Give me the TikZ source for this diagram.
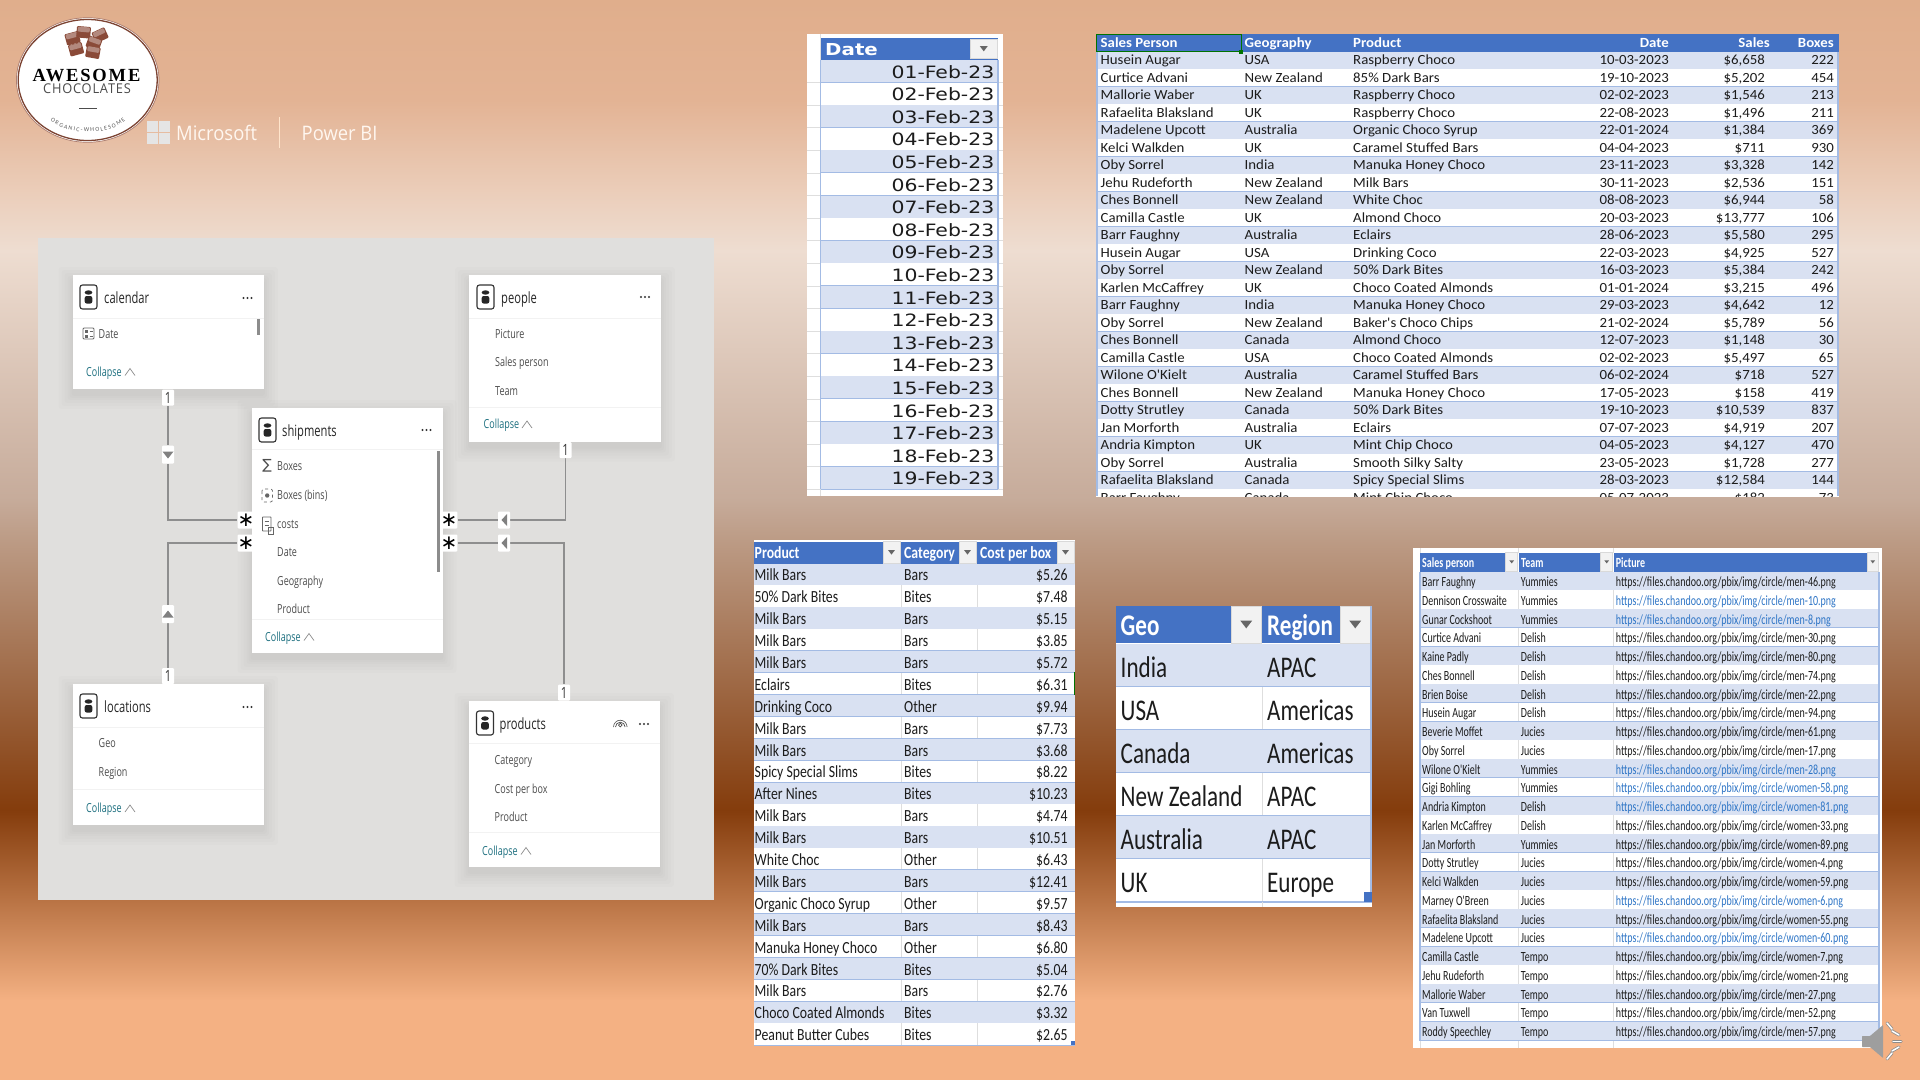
\documentclass[tikz,border=0pt]{standalone}
\usepackage{fontspec}
\usetikzlibrary{calc,decorations.text}
\newfontfamily\xlF{Carlito}
\newfontfamily\salF[FakeStretch=1.06]{Carlito}
\newfontfamily\dateF[FakeStretch=1.2]{DejaVu Sans}
\newfontfamily\peoF[FakeStretch=.715]{Carlito}
\newfontfamily\proF[FakeStretch=.81]{Carlito}
\newfontfamily\geoF[FakeStretch=.77]{Carlito}
\newfontfamily\uiF[FakeStretch=.72]{Open Sans}
\newfontfamily\msF[FakeStretch=.92]{Open Sans}
\newfontfamily\aweF[LetterSpace=10]{Liberation Serif}
\newfontfamily\choF[LetterSpace=6,FakeStretch=.95]{Open Sans}
\newfontfamily\djF{DejaVu Sans}
\newcommand\fsz[1]{\fontsize{#1}{#1}\selectfont}
\definecolor{hdr}{HTML}{4472C4}
\definecolor{band}{HTML}{D9E1F2}
\definecolor{rule}{HTML}{A3BBE4}
\definecolor{grid}{HTML}{DEDEDE}
\definecolor{ink}{HTML}{1C1C1C}
\definecolor{lnk}{HTML}{2E75C6}
\definecolor{gA}{HTML}{E0AE8C}
\definecolor{gB}{HTML}{E3B394}
\definecolor{gC}{HTML}{EBCDB9}
\definecolor{gD}{HTML}{EEDDD1}
\definecolor{gE}{HTML}{C6AB9A}
\definecolor{gF}{HTML}{BC9B85}
\definecolor{gG}{HTML}{843C0C}
\definecolor{gH}{HTML}{F4B183}
\definecolor{panel}{HTML}{E0DFDD}
\definecolor{uiT}{HTML}{4D4D4D}
\definecolor{teal}{HTML}{1E7080}
\definecolor{relc}{HTML}{8E8E8E}
\definecolor{choc}{HTML}{8A4A38}
\pgfdeclarelayer{back}\pgfdeclarelayer{lines}
\pgfsetlayers{back,lines,main}
\tikzset{
 cell/.style={inner sep=0pt,text=ink,anchor=base west},
 cellr/.style={inner sep=0pt,text=ink,anchor=base east},
 hcell/.style={inner sep=0pt,text=white,anchor=base west,font=\bfseries},
 hcellr/.style={inner sep=0pt,text=white,anchor=base east,font=\bfseries},
 cardbox/.style={fill=white,inner sep=0pt,rectangle},
 ttl/.style={inner sep=0pt,anchor=base west,text=black!85,font=\uiF\fsz{15.5}},
 fld/.style={inner sep=0pt,anchor=base west,text=uiT,font=\uiF\fsz{12.5}},
 clp/.style={inner sep=0pt,anchor=base west,text=teal,font=\uiF\fsz{12.5}},
 badge/.style={fill=white,inner sep=0pt,rounded corners=1pt,minimum width=12pt},
 rel/.style={draw=relc,line width=1.3pt},
 divl/.style={draw=black!5,line width=1pt},
 chev/.style={draw=black!45,line width=.7pt},
 ico/.style={draw=black!60,line width=.8pt},
 grd/.style={draw=grid,line width=.8pt},
 rl/.style={draw=rule,line width=1.3pt}
}
\newcommand\filt[4]{%
 \fill[black!5] (#1,#2) rectangle (#3,#4);
 \draw[black!15,line width=.5pt] (#1,#2) rectangle (#3,#4);
 \pgfmathsetmacro\fx{(#1+#3)/2}\pgfmathsetmacro\fy{(#2+#4)/2}
 \pgfmathsetmacro\fs{min(#3-#1,#4-#2)*.2}
 \fill[black!60] (\fx-\fs,\fy-.65*\fs) -- (\fx+\fs,\fy-.65*\fs) -- (\fx,\fy+.65*\fs) -- cycle;}
\newcommand\card[5]{%
 \begin{pgfonlayer}{back}
 \foreach \e in {14,11,8,5,3,1}{\fill[black,opacity=.013,rounded corners=3pt] (#2-\e,#3-\e+6) rectangle (#4+\e,#5+\e+6);}
 \end{pgfonlayer}
 \pgfmathsetmacro\cw{#4-#2}\pgfmathsetmacro\ch{#5-#3}
 \node[cardbox,minimum width=\cw pt,minimum height=\ch pt] (#1) at ({(#2+#4)/2},{(#3+#5)/2}) {};}
\newcommand\dbicon[2]{%
 \draw[black!80,line width=1.1pt,rounded corners=2.5pt] (#1,#2) rectangle ++(17,24);
 \fill[black!85] (#1+8.5,#2+7.5) ellipse [x radius=3.8,y radius=2.2];
 \fill[black!85,rounded corners=2pt] (#1+4.7,#2+11) rectangle ++(7.6,7.5);}
\newcommand\dotsic[2]{\foreach \q in {-4,0,4}{\fill[black!80] (#1+\q,#2) circle [radius=1.1];}}
\newcommand\chevr[2]{\draw[chev] (#1,#2+4) -- (#1+5,#2-3) -- (#1+10,#2+4);}
\begin{document}
\begin{tikzpicture}[x=1pt,y=-1pt,font=\xlF]
\useasboundingbox (0,0) rectangle (1920,1080);
\begin{pgfonlayer}{back}
 \shade[top color=gA,bottom color=gB] (0,0) rectangle (1920,100.5);
 \shade[top color=gB,bottom color=gC] (0,100) rectangle (1920,190.5);
 \shade[top color=gC,bottom color=gD] (0,190) rectangle (1920,250.5);
 \shade[top color=gD,bottom color=gE] (0,250) rectangle (1920,500.5);
 \shade[top color=gE,bottom color=gF] (0,500) rectangle (1920,540.5);
 \shade[top color=gF,bottom color=gG] (0,540) rectangle (1920,810.5);
 \shade[top color=gG,bottom color=gH] (0,810) rectangle (1920,1000.5);
 \fill[gH] (0,1000) rectangle (1920,1080);
 \fill[panel] (38,238) rectangle (714,900);
\end{pgfonlayer}
% ---------- logo
\fill[white] (87.7,80) ellipse [x radius=71,y radius=62];
\draw[choc!90!black,line width=1.3pt] (87.7,80) ellipse [x radius=69.5,y radius=60.5];
\draw[choc!70,line width=.7pt] (87.7,80) ellipse [x radius=71.3,y radius=62.3];
\foreach \px/\py/\pr in {72.5/38/15,83.6/32/-5,100/35/25,94/43/-20,76/49/15,93/52/-10}{
 \fill[choc,rotate around={\pr:(\px,\py)},rounded corners=1pt] (\px-7,\py-5.5) rectangle (\px+7,\py+6);
 \fill[choc!65!white,rotate around={\pr:(\px,\py)},rounded corners=1pt] (\px-6,\py-5) rectangle (\px+6,\py);}
\node[inner sep=0pt,anchor=base,text=black,font=\aweF\bfseries\fsz{18.5}] (awe) at (86.5,81) {AWESOME};
\node[inner sep=0pt,anchor=base,text=black!70,font=\choF\fsz{13.5}] (cho) at (87,93) {CHOCOLATES};
\draw[black!70,line width=1pt] (79,108.7) -- (97,108.7);
\path[decorate,decoration={text along path,text align=center,text={|\xlF\fsz{6}\color{black!65}|O R G A N I C  -  W H O L E S O M E}}] (47,117) .. controls (62,137) and (114,137) .. (129,117);
% ---------- microsoft
\foreach \px/\py in {147/121,159.2/121,147/133.2,159.2/133.2}{\fill[black!10] (\px,\py) rectangle ++(10.8,10.8);}
\node[inner sep=0pt,anchor=base west,text=white!94!orange,font=\msF\fsz{20}] (ms) at (176,140) {Microsoft};
\draw[white!80!orange,line width=.8pt] (279,117) -- (279,148);
\node[inner sep=0pt,anchor=base west,text=white!94!orange,font=\msF\fsz{20}] (pbi) at (301.5,140) {Power BI};
% ---------- model cards
\card{calendar}{72.5}{275}{264}{389}
\card{people}{469}{275}{661}{441.5}
\card{shipments}{251.5}{408}{442.5}{653}
\card{locations}{72.5}{684}{264}{825}
\card{products}{468.5}{701}{660}{867}
\dbicon{80}{285}\dbicon{477}{285}\dbicon{259}{418}\dbicon{80}{694}\dbicon{476.5}{711}
\node[ttl] (tcal) at (104,303) {calendar};
\node[ttl] (tpeo) at (501,303) {people};
\node[ttl] (tshi) at (282,436) {shipments};
\node[ttl] (tloc) at (104,712) {locations};
\node[ttl] (tpro) at (499.5,729) {products};
\dotsic{247.5}{298}\dotsic{645}{297}\dotsic{426.5}{430}\dotsic{247.5}{707}\dotsic{644}{724}
\draw[divl] (72.5,318) -- (264,318);
\draw[divl] (469,318) -- (661,318);
\draw[divl] (469,407) -- (661,407);
\draw[divl] (251.5,449.5) -- (442.5,449.5);
\draw[divl] (251.5,619) -- (442.5,619);
\draw[divl] (72.5,727) -- (264,727);
\draw[divl] (72.5,789) -- (264,789);
\draw[divl] (468.5,743) -- (660,743);
\draw[divl] (468.5,832) -- (660,832);
% scrollbars
\fill[black!45] (257,318.5) rectangle (260,335);
\fill[black!45] (437,451) rectangle (439.5,572);
% calendar field
\draw[ico,rounded corners=1pt] (83,328) rectangle (94,339);
\fill[black!60] (85,330) rectangle (88,333);\fill[black!60] (85,335) rectangle (88,337.5);\draw[black!60,line width=.7pt] (89.5,331)--(92.5,331) (89.5,336)--(92.5,336);
\node[fld] (fdate) at (98.5,338.5) {Date};
\node[clp] (ccal) at (86,376) {Collapse};\chevr{125}{371.5}
% people fields
\node[fld] (fpic) at (495,338.5) {Picture};
\node[fld] (fsp) at (495,366.5) {Sales person};
\node[fld] (ftm) at (495,395) {Team};
\node[clp] (cpeo) at (483.5,428.5) {Collapse};\chevr{522}{424}
% shipments fields
\node[inner sep=0pt,text=uiT,font=\djF\fsz{14}] (isig) at (267,466) {∑};
\draw[ico,dashed,rounded corners=2pt,line width=.7pt] (262,489) rectangle (272.5,502);
\fill[black!60] (267.2,495.5) circle [radius=2.2];
\draw[ico,rounded corners=.5pt] (262.5,517) rectangle (271,531);
\draw[ico,line width=.6pt] (264.5,521)--(269,521) (264.5,525)--(269,525);
\draw[ico,line width=.8pt] (268,527) rectangle (273,534);
\node[fld] (fbx) at (277,470.5) {Boxes};
\node[fld] (fbb) at (277,499.5) {Boxes (bins)};
\node[fld] (fcs) at (277,528.5) {costs};
\node[fld] (fdt) at (277,556.5) {Date};
\node[fld] (fge) at (277,585) {Geography};
\node[fld] (fpr) at (277,613) {Product};
\node[clp] (cshi) at (265,641) {Collapse};\chevr{304}{636.5}
% locations
\node[fld] (fgeo) at (98.5,747.5) {Geo};
\node[fld] (freg) at (98.5,776) {Region};
\node[clp] (cloc) at (86,812.5) {Collapse};\chevr{125}{808}
% products
\draw[black!70,line width=.7pt] (620.3,725) circle [radius=1.8];
\draw[black!70,line width=.7pt] (615.5,727) arc (180:360:4.8);
\draw[black!70,line width=.6pt] (613.5,727) arc (180:360:6.8);
\node[fld] (fcat) at (494.5,764.5) {Category};
\node[fld] (fcpb) at (494.5,793.5) {Cost per box};
\node[fld] (fprd) at (494.5,821.5) {Product};
\node[clp] (cpro) at (482,855) {Collapse};\chevr{521}{850.5}
% badges
\node[badge,minimum height=16pt,font=\uiF\fsz{15.5},text=black!80] (b1) at (168,397.5) {1};
\node[badge,minimum height=18pt] (t1) at (168,454.5) {};
\node[badge,minimum height=17pt] (s1) at (246,520) {\djF\fsz{20}∗};
\node[badge,minimum height=17pt] (s2) at (246,543) {\djF\fsz{20}∗};
\node[badge,minimum height=18pt] (t2) at (168,614) {};
\node[badge,minimum height=16pt,font=\uiF\fsz{15.5},text=black!80] (b2) at (168,676) {1};
\node[badge,minimum height=17pt] (s3) at (449,520) {\djF\fsz{20}∗};
\node[badge,minimum height=17pt] (s4) at (449,543) {\djF\fsz{20}∗};
\node[badge,minimum height=17pt] (t3) at (504,520) {};
\node[badge,minimum height=17pt] (t4) at (504,543) {};
\node[badge,minimum height=16pt,font=\uiF\fsz{15.5},text=black!80] (b3) at (565.5,450) {1};
\node[badge,minimum height=16pt,font=\uiF\fsz{15.5},text=black!80] (b4) at (564,692.5) {1};
\fill[black!50] (162.5,451.5) -- (173.5,451.5) -- (168,458.5) -- cycle;
\fill[black!50] (162.5,617.5) -- (173.5,617.5) -- (168,610.5) -- cycle;
\fill[black!50] (507,514) -- (507,526) -- (501.5,520) -- cycle;
\fill[black!50] (507,537) -- (507,549) -- (501.5,543) -- cycle;
\begin{pgfonlayer}{lines}
\draw[rel] (b1) -- (t1) |- (s1);
\draw[rel] (b2) -- (t2) |- (s2);
\draw[rel] (s3) -- (t3) -| (b3);
\draw[rel] (s4) -- (t4) -| (b4);
\end{pgfonlayer}
% ---------- date table
\fill[white] (807,34) rectangle (1003,496);
\draw[grd] (820.5,34) -- (820.5,496);
\fill[hdr] (820.7,37.7) rectangle (998,60);
\filt{970}{39}{997.5}{58.5}
\node[hcell,font=\dateF\bfseries\fsz{16.5}] (dh) at (825,55.5) {Date};
\foreach \dd [count=\rw from 0] in {01,02,03,04,05,06,07,08,09,10,11,12,13,14,15,16,17,18,19}{
 \pgfmathsetmacro\yy{60+22.6*\rw}
 \ifodd\rw\def\rowc{white}\else\def\rowc{band}\fi
 \fill[\rowc] (820.7,\yy) rectangle (998,\yy+22.6);
 \draw[grd] (807,\yy+22.6) -- (820.5,\yy+22.6) (998,\yy+22.6) -- (1003,\yy+22.6);
 \draw[rl] (820.7,\yy+22.6) -- (998,\yy+22.6);
 \node[cellr,font=\dateF\fsz{17}] (d\rw) at (994.5,\yy+18) {\dd-Feb-23};
}
\draw[rl] (820.7,60) -- (820.7,489.4) (998,60) -- (998,489.4);
% ---------- sales table
\fill[white] (1096,34) rectangle (1839,496);
\fill[hdr] (1096,34) rectangle (1839,51.7);
\begin{scope}
\clip (1096,34) rectangle (1839,496);
\node[hcell,font=\salF\bfseries\fsz{14}] (sh1) at (1100.5,47.5) {Sales Person};
\node[hcell,font=\salF\bfseries\fsz{14}] (sh2) at (1244.5,47.5) {Geography};
\node[hcell,font=\salF\bfseries\fsz{14}] (sh3) at (1353,47.5) {Product};
\node[hcellr,font=\salF\bfseries\fsz{14}] (sh4) at (1669,47.5) {Date};
\node[hcellr,font=\salF\bfseries\fsz{14}] (sh5) at (1770,47.5) {Sales};
\node[hcellr,font=\salF\bfseries\fsz{14}] (sh6) at (1834,47.5) {Boxes};
\foreach \pa/\pb/\pc/\pd/\pe/\pf [count=\rw from 0] in {
Husein Augar/USA/Raspberry Choco/10-03-2023/\$6{,}658/222,
Curtice Advani/New Zealand/85\% Dark Bars/19-10-2023/\$5{,}202/454,
Mallorie Waber/UK/Raspberry Choco/02-02-2023/\$1{,}546/213,
Rafaelita Blaksland/UK/Raspberry Choco/22-08-2023/\$1{,}496/211,
Madelene Upcott/Australia/Organic Choco Syrup/22-01-2024/\$1{,}384/369,
Kelci Walkden/UK/Caramel Stuffed Bars/04-04-2023/\$711/930,
Oby Sorrel/India/Manuka Honey Choco/23-11-2023/\$3{,}328/142,
Jehu Rudeforth/New Zealand/Milk Bars/30-11-2023/\$2{,}536/151,
Ches Bonnell/New Zealand/White Choc/08-08-2023/\$6{,}944/58,
Camilla Castle/UK/Almond Choco/20-03-2023/\$13{,}777/106,
Barr Faughny/Australia/Eclairs/28-06-2023/\$5{,}580/295,
Husein Augar/USA/Drinking Coco/22-03-2023/\$4{,}925/527,
Oby Sorrel/New Zealand/50\% Dark Bites/16-03-2023/\$5{,}384/242,
Karlen McCaffrey/UK/Choco Coated Almonds/01-01-2024/\$3{,}215/496,
Barr Faughny/India/Manuka Honey Choco/29-03-2023/\$4{,}642/12,
Oby Sorrel/New Zealand/Baker's Choco Chips/21-02-2024/\$5{,}789/56,
Ches Bonnell/Canada/Almond Choco/12-07-2023/\$1{,}148/30,
Camilla Castle/USA/Choco Coated Almonds/02-02-2023/\$5{,}497/65,
Wilone O'Kielt/Australia/Caramel Stuffed Bars/06-02-2024/\$718/527,
Ches Bonnell/New Zealand/Manuka Honey Choco/17-05-2023/\$158/419,
Dotty Strutley/Canada/50\% Dark Bites/19-10-2023/\$10{,}539/837,
Jan Morforth/Australia/Eclairs/07-07-2023/\$4{,}919/207,
Andria Kimpton/UK/Mint Chip Choco/04-05-2023/\$4{,}127/470,
Oby Sorrel/Australia/Smooth Silky Salty/23-05-2023/\$1{,}728/277,
Rafaelita Blaksland/Canada/Spicy Special Slims/28-03-2023/\$12{,}584/144,
Barr Faughny/Canada/Mint Chip Choco/05-07-2023/\$182/73}{
 \pgfmathsetmacro\yy{51.7+17.5*\rw}
 \ifodd\rw\def\rowc{white}\else\def\rowc{band}\fi
 \fill[\rowc] (1096,\yy) rectangle (1839,\yy+17.5);
 \draw[rl] (1096,\yy+17.5) -- (1839,\yy+17.5);
 \node[cell,font=\salF\fsz{14}] (sa\rw) at (1100.5,\yy+13) {\pa};
 \node[cell,font=\salF\fsz{14}] (sb\rw) at (1244.5,\yy+13) {\pb};
 \node[cell,font=\salF\fsz{14}] (sc\rw) at (1353,\yy+13) {\pc};
 \node[cellr,font=\salF\fsz{14}] (sd\rw) at (1669,\yy+13) {\pd};
 \node[cellr,font=\salF\fsz{14}] (se\rw) at (1765,\yy+13) {\pe};
 \node[cellr,font=\salF\fsz{14}] (sf\rw) at (1834,\yy+13) {\pf};
}
\end{scope}
\draw[rl] (1097,51.7) -- (1097,496) (1838,51.7) -- (1838,496);
\draw[green!45!black,line width=1pt] (1096.5,34.5) rectangle (1241,51.5);
\fill[green!45!black] (1239,49.5) rectangle (1243,53.5);
% ---------- products table
\fill[white] (754,540) rectangle (1075,1045);
\fill[hdr] (754,541.7) rectangle (883,563.5);
\fill[hdr] (901,541.7) rectangle (958.5,563.5);
\fill[hdr] (977,541.7) rectangle (1057,563.5);
\filt{883}{541.7}{900}{563}\filt{959}{541.7}{976}{563}\filt{1057}{541.7}{1074}{563}
\node[hcell,font=\proF\bfseries\fsz{17}] (ph1) at (754.5,558.5) {Product};
\node[hcell,font=\proF\bfseries\fsz{17}] (ph2) at (904,558.5) {Category};
\node[hcell,font=\proF\bfseries\fsz{17}] (ph3) at (980,558.5) {Cost per box};
\foreach \pa/\pb/\pc [count=\rw from 0] in {
Milk Bars/Bars/\$5.26,50\% Dark Bites/Bites/\$7.48,Milk Bars/Bars/\$5.15,Milk Bars/Bars/\$3.85,Milk Bars/Bars/\$5.72,Eclairs/Bites/\$6.31,Drinking Coco/Other/\$9.94,Milk Bars/Bars/\$7.73,Milk Bars/Bars/\$3.68,Spicy Special Slims/Bites/\$8.22,After Nines/Bites/\$10.23,Milk Bars/Bars/\$4.74,Milk Bars/Bars/\$10.51,White Choc/Other/\$6.43,Milk Bars/Bars/\$12.41,Organic Choco Syrup/Other/\$9.57,Milk Bars/Bars/\$8.43,Manuka Honey Choco/Other/\$6.80,70\% Dark Bites/Bites/\$5.04,Milk Bars/Bars/\$2.76,Choco Coated Almonds/Bites/\$3.32,Peanut Butter Cubes/Bites/\$2.65}{
 \pgfmathsetmacro\yy{563.5+21.9*\rw}
 \ifodd\rw
  \fill[white] (754,\yy) rectangle (1075,\yy+21.9);
  \draw[grd] (901,\yy) -- (901,\yy+21.9) (977,\yy) -- (977,\yy+21.9);
 \else
  \fill[band] (754,\yy) rectangle (1075,\yy+21.9);
 \fi
 \draw[rl] (754,\yy+21.9) -- (1075,\yy+21.9);
 \node[cell,font=\proF\fsz{17}] (pa\rw) at (754.5,\yy+17.3) {\pa};
 \node[cell,font=\proF\fsz{17}] (pb\rw) at (904,\yy+17.3) {\pb};
 \node[cellr,font=\proF\fsz{17}] (pc\rw) at (1067.7,\yy+17.3) {\pc};
}
\draw[green!45!black,line width=.8pt] (1074.5,672) -- (1074.5,695);
\fill[hdr] (1071,1041) rectangle (1075,1045);
% ---------- geo table
\fill[white] (1116,606) rectangle (1371.5,906.7);
\fill[hdr] (1116,606) rectangle (1231,643);
\fill[hdr] (1261.5,606) rectangle (1340,643);
\filt{1231.5}{606}{1261}{643}\filt{1340.5}{606}{1370}{643}
\node[hcell,font=\geoF\bfseries\fsz{30}] (gh1) at (1120.5,635) {Geo};
\node[hcell,font=\geoF\bfseries\fsz{30}] (gh2) at (1267,635) {Region};
\foreach \pa/\pb [count=\rw from 0] in {India/APAC,USA/Americas,Canada/Americas,New Zealand/APAC,Australia/APAC,UK/Europe}{
 \pgfmathsetmacro\yy{644+43*\rw}
 \ifodd\rw
  \fill[white] (1116,\yy) rectangle (1371.5,\yy+43);
  \draw[grd] (1262,\yy) -- (1262,\yy+43);
 \else
  \fill[band] (1116,\yy) rectangle (1371.5,\yy+43);
 \fi
 \draw[rl,line width=1.6pt] (1116,\yy+43) -- (1371.5,\yy+43);
 \node[cell,font=\geoF\fsz{30}] (ga\rw) at (1120.5,\yy+33) {\pa};
 \node[cell,font=\geoF\fsz{30}] (gb\rw) at (1267,\yy+33) {\pb};
}
\draw[rl] (1371,606) -- (1371,902);
\draw[grd] (1262,902) -- (1262,906.7);
\fill[hdr] (1363.5,892) rectangle (1371.5,902);
% ---------- people table
\fill[white] (1413,548) rectangle (1881.7,1047.7);
\draw[grd] (1420,548) -- (1420,552.5) (1518.3,548) -- (1518.3,552.5) (1613.3,548) -- (1613.3,552.5);
\draw[grd] (1420,1041) -- (1420,1047.7) (1518.3,1041) -- (1518.3,1047.7) (1613.3,1041) -- (1613.3,1047.7);
\fill[hdr] (1420,552.7) rectangle (1505.5,571.5);
\fill[hdr] (1518.7,552.7) rectangle (1600.5,571.5);
\fill[hdr] (1613.7,552.7) rectangle (1866.5,571.5);
\filt{1505.7}{552.7}{1517.7}{571}\filt{1600.7}{552.7}{1612.7}{571}\filt{1867}{552.7}{1878.5}{571}
\node[hcell,font=\peoF\bfseries\fsz{14}] (ah1) at (1422,567) {Sales person};
\node[hcell,font=\peoF\bfseries\fsz{14}] (ah2) at (1521,567) {Team};
\node[hcell,font=\peoF\bfseries\fsz{14}] (ah3) at (1615.7,567) {Picture};
\foreach \pa/\pb/\pc/\pd [count=\rw from 0] in {
Barr Faughny/Yummies/men-46/0,Dennison Crosswaite/Yummies/men-10/1,Gunar Cockshoot/Yummies/men-8/1,Curtice Advani/Delish/men-30/0,Kaine Padly/Delish/men-80/0,Ches Bonnell/Delish/men-74/0,Brien Boise/Delish/men-22/0,Husein Augar/Delish/men-94/0,Beverie Moffet/Jucies/men-61/0,Oby Sorrel/Jucies/men-17/0,Wilone O'Kielt/Yummies/men-28/1,Gigi Bohling/Yummies/women-58/1,Andria Kimpton/Delish/women-81/1,Karlen McCaffrey/Delish/women-33/0,Jan Morforth/Yummies/women-89/0,Dotty Strutley/Jucies/women-4/0,Kelci Walkden/Jucies/women-59/0,Marney O'Breen/Jucies/women-6/1,Rafaelita Blaksland/Jucies/women-55/0,Madelene Upcott/Jucies/women-60/1,Camilla Castle/Tempo/women-7/0,Jehu Rudeforth/Tempo/women-21/0,Mallorie Waber/Tempo/men-27/0,Van Tuxwell/Tempo/men-52/0,Roddy Speechley/Tempo/men-57/0}{
 \pgfmathsetmacro\yy{571.7+18.75*\rw}
 \ifodd\rw
  \fill[white] (1420,\yy) rectangle (1879,\yy+18.75);
  \draw[grd] (1518.3,\yy) -- (1518.3,\yy+18.75) (1613.3,\yy) -- (1613.3,\yy+18.75);
 \else
  \fill[band] (1420,\yy) rectangle (1879,\yy+18.75);
 \fi
 \draw[rl] (1420,\yy+18.75) -- (1879,\yy+18.75);
 \node[cell,font=\peoF\fsz{14}] (aa\rw) at (1422,\yy+15) {\pa};
 \node[cell,font=\peoF\fsz{14}] (ab\rw) at (1520.7,\yy+15) {\pb};
 \ifnum\pd=1
  \node[cell,font=\peoF\fsz{14},text=lnk] (ac\rw) at (1615.7,\yy+15) {\underline{https://files.chandoo.org/pbix/img/circle/\pc.png}};
 \else
  \node[cell,font=\peoF\fsz{14}] (ac\rw) at (1615.7,\yy+15) {https://files.chandoo.org/pbix/img/circle/\pc.png};
 \fi
}
\draw[rl] (1420,571.7) -- (1420,1040.5) (1879,571.7) -- (1879,1040.5);
% ---------- speaker
\fill[black!38,rounded corners=.5pt] (1862,1036) -- (1870,1036) -- (1883,1025) -- (1883,1058) -- (1870,1047) -- (1862,1047) -- cycle;
\foreach \ax/\ay/\bx/\by in {1887/1023/1892/1029,1892/1031/1899/1035,1893/1041.5/1901/1041.5,1892/1051/1899/1047,1887/1059/1892/1053}{
 \draw[black!45,line width=3pt,line cap=round] (\ax,\ay) -- (\bx,\by);
 \draw[white,line width=1.5pt,line cap=round] (\ax,\ay) -- (\bx,\by);}
\end{tikzpicture}
\end{document}
